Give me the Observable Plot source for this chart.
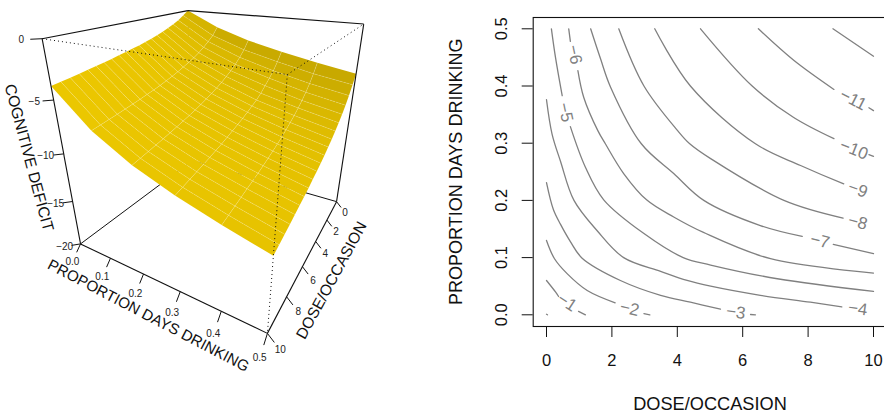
<!DOCTYPE html>
<html><head><meta charset="utf-8">
<script src="https://cdn.jsdelivr.net/npm/d3@7"></script>
<script src="https://cdn.jsdelivr.net/npm/@observablehq/plot@0.6"></script>
<style>html,body{margin:0;padding:0;background:#fff}#wrap{display:flex;width:884px;height:413px;overflow:hidden}svg{display:block;flex:none}</style>
</head><body><div id="wrap"></div>
<script>
const FONT = "Liberation Sans, Arimo, Helvetica, Arial, sans-serif";
// ---- surface values ----
const doseGrid = [0,.5,1,1.5,2,2.5,3,3.5,4,4.5,5,5.5,6,6.5,7,7.5,8,8.5,9,9.5,10];
const propGrid = [0,.1,.2,.3,.4,.5];
const zProp00 = [0,-.44,-.85,-1.17,-1.44,-1.69,-1.93,-2.13,-2.31,-2.47,-2.61,-2.75,-2.89,-3.03,-3.15,-3.27,-3.38,-3.49,-3.6,-3.7,-3.8];
const zProp01 = [-1.6,-2.35,-2.88,-3.33,-3.73,-4.09,-4.38,-4.65,-4.91,-5.14,-5.35,-5.55,-5.73,-5.88,-6.05,-6.2,-6.34,-6.48,-6.61,-6.74,-6.87];
const zProp02 = [-2.7,-3.55,-4.18,-4.73,-5.2,-5.58,-5.95,-6.27,-6.56,-6.83,-7.09,-7.32,-7.53,-7.72,-7.92,-8.1,-8.28,-8.44,-8.6,-8.75,-8.9];
const zProp03 = [-3.5,-4.37,-5.12,-5.67,-6.21,-6.73,-7.15,-7.47,-7.77,-8.06,-8.32,-8.57,-8.81,-9.04,-9.25,-9.45,-9.64,-9.82,-10,-10.18,-10.35];
const zProp04 = [-4.2,-5.12,-5.89,-6.53,-7.09,-7.55,-8,-8.36,-8.72,-9.05,-9.33,-9.6,-9.85,-10.09,-10.31,-10.51,-10.7,-10.9,-11.1,-11.3,-11.5];
const zProp05 = [-4.8,-5.67,-6.49,-7.17,-7.76,-8.27,-8.73,-9.14,-9.5,-9.86,-10.17,-10.45,-10.72,-11,-11.23,-11.45,-11.67,-11.89,-12.1,-12.3,-12.5];
const zRows = [zProp00,zProp01,zProp02,zProp03,zProp04,zProp05];
const propTicks = [0,.1,.2,.3,.4,.5];
const doseTicks = [0,2,4,6,8,10];
const zTicks = [0,-5,-10,-15,-20];
// ---- contour lines [dose, prop], one list per unbroken piece ----
const level0  = [[[0,.001],[.03,0]]];
const level1  = [[[0,.06],[.275,.04],[.37,.032]],[[.98,.006],[1.19,0]]];
const level2  = [[[0,.13],[.245,.098],[.63,.072],[1.245,.0425],[2.1,.021]],[[2.98,.002],[3.16,0]]];
const level3  = [[[0,.231],[.21,.184],[.43,.158],[.73,.128],[1.09,.099],[2.26,.06],[3.49,.034],[4.4,.022],[5.32,.01]],[[6.24,.0005],[6.39,0]]];
const level4  = [[[0,.376],[.17,.316],[.43,.268],[.84,.2],[1.55,.147],[2.36,.1],[3.49,.076],[4.3,.06],[5.02,.05],[6.54,.034],[8.07,.022],[9.03,.014]]];
const level5  = [[[.15,.5],[.275,.45],[.48,.383]],[[.73,.329],[1.19,.258],[1.75,.201],[2.98,.142],[4.18,.1],[5.02,.087],[7.06,.063],[10,.041]]];
const level6  = [[[.68,.5],[.73,.478]],[[.96,.427],[1.14,.38],[1.57,.322],[1.8,.299],[2.36,.247],[3.06,.201],[3.89,.171],[4.8,.144],[6.85,.098],[10,.073]]];
const level7  = [[[1.35,.5],[1.65,.448],[1.96,.398],[2.9,.299],[3.89,.247],[4.81,.2],[6.54,.156],[7.82,.137]],[[8.77,.123],[10,.107]]];
const level8  = [[[2.21,.5],[2.98,.4],[4.01,.322],[4.38,.299],[5.02,.273],[7.26,.2],[9.07,.169]]];
const level9  = [[[3.31,.5],[4.4,.4],[6.39,.299],[7.77,.261],[9.09,.229]]];
const level10 = [[[4.71,.5],[6.29,.4],[7.56,.345],[8.79,.308]],[[9.86,.28],[10,.277]]];
const level11 = [[[6.48,.5],[7.56,.445],[8.79,.394]],[[9.86,.362],[10,.357]]];
const level12 = [[[8.76,.5],[10,.452]]];
const contourLevels = [level0,level1,level2,level3,level4,level5,level6,level7,level8,level9,level10,level11,level12];
const labelText  = ["\u22121","\u22122","\u22123","\u22124","\u22125","\u22126","\u22127","\u22128","\u22129","\u221210","\u221211"];
const labelDose  = [.63,2.54,5.79,9.52,.58,.86,8.36,9.52,9.52,9.4,9.38];
const labelProp  = [.022,.011,.0045,.0105,.354,.455,.129,.162,.219,.289,.376];
const labelAngle = [33,13,8,8,78,78,14,15,20,22,27];

// ---- perspective camera calibrated on the box corners ----
const cornerX = [0,0,1,1,0,1,1,0], cornerY=[0,1,0,1,1,1,0,0], cornerZ=[0,0,0,0,1,1,1,1];
const cornerU = [187.3,41.7,363.3,286.7,80,267,336,192], cornerV=[10,38.3,23.7,74,243.3,333,201,160];
function solveCamera(){
  const A=[],b=[];
  cornerX.forEach((X,i)=>{const Y=cornerY[i],Z=cornerZ[i],u=cornerU[i],v=cornerV[i];
    A.push([X,Y,Z,1,0,0,0,0,-u*X,-u*Y,-u*Z]);b.push(u);
    A.push([0,0,0,0,X,Y,Z,1,-v*X,-v*Y,-v*Z]);b.push(v);});
  const n=11,M=d3.range(n).map(i=>d3.range(n+1).map(j=>j<n?d3.sum(A,r=>r[i]*r[j]):d3.sum(A,(r,k)=>r[i]*b[k])));
  for(let c=0;c<n;c++){let p=c;for(let r=c;r<n;r++)if(Math.abs(M[r][c])>Math.abs(M[p][c]))p=r;[M[c],M[p]]=[M[p],M[c]];
    for(let r=0;r<n;r++)if(r!==c){const f=M[r][c]/M[c][c];for(let k=c;k<=n;k++)M[r][k]-=f*M[c][k];}}
  return M.map((r,i)=>r[n]/r[i]);
}
const cam=solveCamera();
function project(prop,dose,z){const X=prop/.5,Y=dose/10,Z=-z/20,w=cam[8]*X+cam[9]*Y+cam[10]*Z+1;
  return [(cam[0]*X+cam[1]*Y+cam[2]*Z+cam[3])/w,(cam[4]*X+cam[5]*Y+cam[6]*Z+cam[7])/w];}
const P=(p,d,z,o={})=>{const [u,v]=project(p,d,z);return {u,v,...o};};

// surface quads and the pale grid lines on them
const quads=[];
for(let i=0;i<doseGrid.length-1;i++)for(let j=0;j<propGrid.length-1;j++){
  const id=i+"-"+j,z=zRows;
  const sd=((z[j][i]-z[j][i+1])+(z[j+1][i]-z[j+1][i+1]))/2/20/.05;
  const b=Math.min(1,1.01-.19*sd);
  const c=d3.rgb(238*b,201*b,0).formatHex();
  [[j,i],[j+1,i],[j+1,i+1],[j,i+1]].forEach(([a,e])=>quads.push(P(propGrid[a],doseGrid[e],z[a][e],{id,c})));
}
const doseLines=doseGrid.slice(1,-1).flatMap((d,i)=>propGrid.map((p,j)=>P(p,d,zRows[j][i+1],{id:i})));
const propLines=propGrid.slice(1,-1).flatMap((p,j)=>doseGrid.map((d,i)=>P(p,d,zRows[j+1][i],{id:j})));
const seg=(a,b)=>{const [x1,y1]=project(...a),[x2,y2]=project(...b);return {x1,y1,x2,y2};};
const solidEdges=[seg([0,10,0],[0,0,0]),seg([0,0,0],[.5,0,0]),seg([.5,0,0],[.5,0,-20]),seg([0,10,0],[0,10,-20]),seg([0,10,-20],[.5,10,-20]),seg([.5,10,-20],[.5,0,-20])];
const backEdges=[seg([0,10,-20],[0,0,-20]),seg([.5,0,-20],[0,0,-20])];
const backDots=[seg([0,0,0],[0,0,-20])];
const frontDots=[seg([0,10,0],[.5,10,0]),seg([.5,10,0],[.5,0,0]),seg([.5,10,0],[.5,10,-20])];
const K=1.85;
const propTk=propTicks.map(p=>seg([p,10,-20],[p,10.3,-20.6]));
const doseTk=doseTicks.map(d=>seg([.5,d,-20],[.515,d,-20.6]));
const zTk=zTicks.map(z=>seg([0,10,z],[-.015,10.3,z]));
const txt=[
  ...propTicks.map(p=>P(p,10+.3*2.1,-20-.6*2.1,{t:p.toFixed(1)})),
  ...doseTicks.map(d=>P(.5+.015*K,d,-20-.6*K,{t:String(d)})),
  ...zTicks.map(z=>P(-.015*1.75,10+.3*1.75,z,{t:String(z).replace("-","\u2212")}))
];
const titles=[
  P(.25,11,-22,{t:"PROPORTION DAYS DRINKING",r:27.6,s:15.2}),
  P(.56,5,-22.2,{t:"DOSE/OCCASION",r:-61.5,s:15.5}),
  P(-.05,11,-10,{t:"COGNITIVE DEFICIT",r:75,s:15.7})
];
const ink="#111";
const left=Plot.plot({width:442,height:413,margin:0,style:{fontFamily:FONT,background:"transparent"},
  x:{domain:[0,442],range:[0,442],axis:null},y:{domain:[0,413],range:[0,413],axis:null},color:{type:"identity"},
  marks:[
    Plot.link(backEdges,{x1:"x1",y1:"y1",x2:"x2",y2:"y2",stroke:ink,strokeWidth:1}),
    Plot.link(backDots,{x1:"x1",y1:"y1",x2:"x2",y2:"y2",stroke:ink,strokeWidth:1,strokeDasharray:"1,3"}),
    Plot.line(quads,{x:"u",y:"v",z:"id",fill:"c",stroke:"none",curve:"linear-closed"}),
    Plot.line(doseLines,{x:"u",y:"v",z:"id",stroke:"#fff",strokeOpacity:.3,strokeWidth:.6,strokeDasharray:"5,1.5"}),
    Plot.line(propLines,{x:"u",y:"v",z:"id",stroke:"#fff",strokeOpacity:.3,strokeWidth:.6}),
    Plot.link(frontDots,{x1:"x1",y1:"y1",x2:"x2",y2:"y2",stroke:ink,strokeWidth:1,strokeDasharray:"1,3"}),
    Plot.link(solidEdges,{x1:"x1",y1:"y1",x2:"x2",y2:"y2",stroke:ink,strokeWidth:1.1}),
    Plot.link([...propTk,...doseTk,...zTk],{x1:"x1",y1:"y1",x2:"x2",y2:"y2",stroke:ink,strokeWidth:1}),
    Plot.text(txt,{x:"u",y:"v",text:"t",fontSize:10,fill:"#222"}),
    Plot.text(titles,{x:"u",y:"v",text:"t",rotate:"r",fontSize:"s",fill:ink})
  ]});

const contourRows=contourLevels.flatMap((lv,l)=>lv.flatMap((s,k)=>s.map(([dose,prop])=>({dose,prop,key:l+"-"+k}))));
const labels=labelText.map((t,i)=>({t,dose:labelDose[i],prop:labelProp[i],a:labelAngle[i]}));
const right=Plot.plot({width:442,height:413,marginLeft:90.7,marginRight:-4,marginTop:17,marginBottom:87,
  style:{fontFamily:FONT,background:"transparent"},
  x:{domain:[0,10],range:[546-442,873-442]},y:{domain:[0,.5],range:[314.3,28.3]},
  marks:[
    Plot.frame({stroke:ink,strokeWidth:1.1}),
    Plot.axisX({ticks:doseTicks,tickSize:11,tickPadding:17,fontSize:16.5,label:null,tickFormat:d=>String(d),stroke:ink,fill:ink}),
    Plot.axisY({ticks:propTicks,tickSize:11,tickPadding:15,fontSize:16.5,label:null,tickFormat:d=>d.toFixed(1),tickRotate:-90,stroke:ink,fill:ink}),
    Plot.line(contourRows,{x:"dose",y:"prop",z:"key",stroke:"#808080",strokeWidth:1.3,curve:"catmull-rom"}),
    Plot.text(labels,{x:"dose",y:"prop",text:"t",rotate:"a",fontSize:17,fill:"#808080"}),
    Plot.text(["DOSE/OCCASION"],{x:5,y:-.157,fontSize:18.2,fill:ink}),
    Plot.text(["PROPORTION DAYS DRINKING"],{x:-2.76,y:.25,rotate:-90,fontSize:18,fill:ink})
  ]});
document.getElementById("wrap").append(left,right);
</script></body></html>
